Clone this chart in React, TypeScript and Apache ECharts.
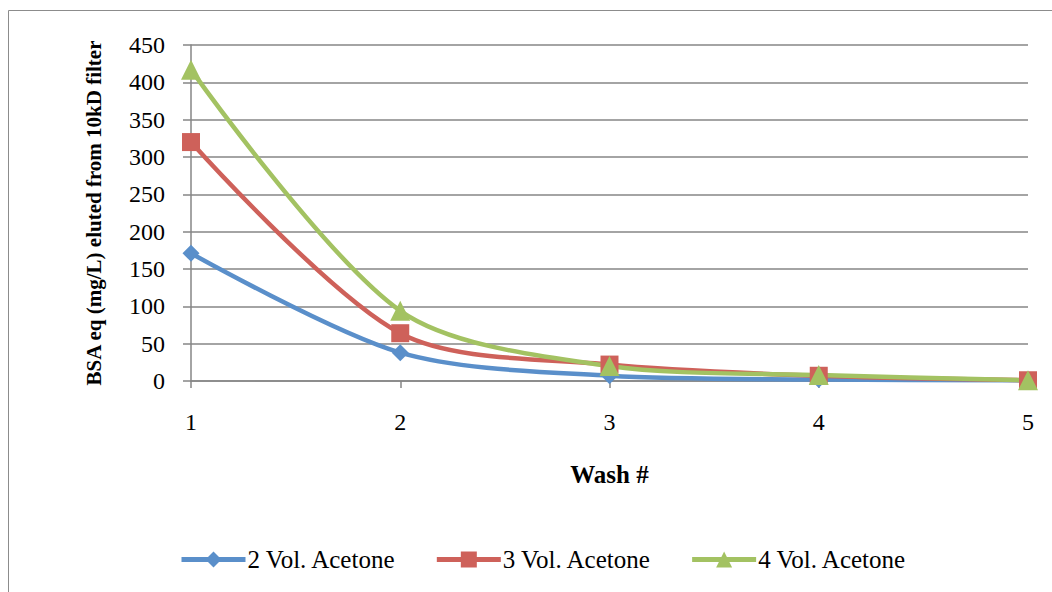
import React, { useEffect, useRef } from "react";
import * as echarts from "echarts";

const washes = ["1", "2", "3", "4", "5"];
const vol2 = [171, 38, 7, 2, 1];
const vol3 = [320, 64, 22, 7, 1];
const vol4 = [417, 94, 20, 8, 1];
const seriesNames = ["2 Vol. Acetone", "3 Vol. Acetone", "4 Vol. Acetone"];

const FONT = "Liberation Serif";

export default function App() {
  const ref = useRef<HTMLDivElement>(null);
  useEffect(() => {
    const chart = echarts.init(ref.current!, null, { renderer: "svg" });
    const colors = ["#5A8FCA", "#CE615A", "#A3C262"];
    const mk = (name: string, data: number[], color: string, symbol: string, size: number) => ({
      name,
      type: "line",
      data,
      smooth: 0.3,
      symbol,
      symbolSize: size,
      showAllSymbol: true,
      lineStyle: { color, width: 4.5 },
      itemStyle: { color },
    });
    chart.setOption({
      animation: false,
      backgroundColor: "#fff",
      graphic: [
        {
          type: "rect",
          shape: { x: 8.5, y: 10.5, width: 1200, height: 800 },
          style: { fill: "none", stroke: "#8C8C8C", lineWidth: 1 },
          silent: true,
        },
      ],
      grid: { left: 191, right: 24, top: 45, bottom: 211, containLabel: false },
      legend: {
        bottom: 15,
        left: 174,
        itemWidth: 64,
        itemHeight: 20,
        itemGap: 38,
        lineStyle: { width: 5 },
        textStyle: { fontFamily: FONT, fontSize: 25, color: "#000", padding: [0, 0, 0, -3] },
        data: seriesNames,
      },
      xAxis: {
        type: "category",
        data: washes,
        boundaryGap: false,
        name: "Wash #",
        nameLocation: "middle",
        nameGap: 81,
        nameTextStyle: { fontFamily: FONT, fontSize: 25, fontWeight: "bold", color: "#000" },
        axisLine: { lineStyle: { color: "#868686", width: 1.5 } },
        axisTick: { show: true, length: 7, alignWithLabel: true, lineStyle: { color: "#868686", width: 1.5 } },
        axisLabel: { fontFamily: FONT, fontSize: 24, color: "#000", margin: 29 },
        splitLine: { show: false },
      },
      yAxis: {
        type: "value",
        min: 0,
        max: 450,
        interval: 50,
        name: "BSA eq (mg/L) eluted from 10kD filter",
        nameLocation: "middle",
        nameGap: 87,
        nameTextStyle: { fontFamily: FONT, fontSize: 21, fontWeight: "bold", color: "#000" },
        axisLine: { show: true, lineStyle: { color: "#868686", width: 1.5 } },
        axisTick: { show: true, length: 8, lineStyle: { color: "#868686", width: 1.5 } },
        axisLabel: { fontFamily: FONT, fontSize: 24, color: "#000", margin: 26 },
        splitLine: { show: true, lineStyle: { color: "#868686", width: 1.5 } },
      },
      series: [
        mk(seriesNames[0], vol2, colors[0], "diamond", 17),
        mk(seriesNames[1], vol3, colors[1], "rect", 18),
        mk(seriesNames[2], vol4, colors[2], "triangle", 20),
      ],
    });
    return () => chart.dispose();
  }, []);
  return (
    <div
      ref={ref}
      style={{ position: "absolute", left: 0, top: 0, width: 1052, height: 592 }}
    />
  );
}
